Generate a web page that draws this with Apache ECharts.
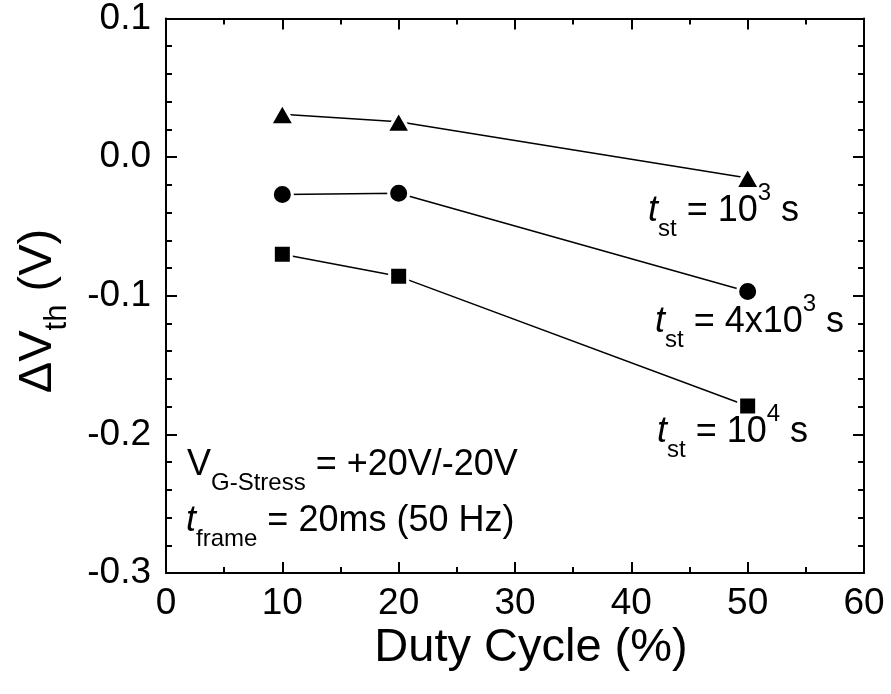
<!DOCTYPE html>
<html>
<head>
<meta charset="utf-8">
<script src="https://cdn.jsdelivr.net/npm/echarts@6/dist/echarts.min.js"></script>
<style>
  html, body { margin: 0; padding: 0; background: #fff; }
  #chart { width: 891px; height: 694px; }
</style>
</head>
<body>
<div id="chart"></div>
<script>
// Duty cycle (%) on the x axis
const dutyCycle = [10, 20, 50];
// Threshold-voltage shift (V) for each stress time
const dVth_t1e3 = [0.031, 0.0255, -0.015];
const dVth_t4e3 = [-0.027, -0.026, -0.097];
const dVth_t1e4 = [-0.070, -0.086, -0.1795];
// Axis tick values
const xTicks = [0, 10, 20, 30, 40, 50, 60];
const yTicks = [-0.3, -0.2, -0.1, 0.0, 0.1];

const FONT = '"Liberation Sans", Arial, Helvetica, sans-serif';
const BLACK = '#000';

function pairs(xs, ys) { return xs.map((x, i) => [x, ys[i]]); }

function axisCommon(showLabels, isX) {
  return {
    type: 'value',
    min: isX ? xTicks[0] : yTicks[0],
    max: isX ? xTicks[xTicks.length - 1] : yTicks[yTicks.length - 1],
    interval: isX ? xTicks[1] - xTicks[0] : 0.1,
    axisLine: { show: true, onZero: false, lineStyle: { color: BLACK, width: 2 } },
    axisTick: { show: true, inside: true, length: 11, lineStyle: { color: BLACK, width: 2 } },
    minorTick: { show: true, splitNumber: isX ? 2 : 5, length: 6, lineStyle: { color: BLACK, width: 2 } },
    splitLine: { show: false },
    minorSplitLine: { show: false },
    axisLabel: {
      show: showLabels,
      color: BLACK,
      fontFamily: FONT,
      fontSize: 37,
      margin: isX ? 12 : 15,
      formatter: isX ? (v => String(v)) : (v => v.toFixed(1))
    }
  };
}

function seriesOf(name, ys, symbol, size) {
  return {
    name: name,
    type: 'line',
    xAxisIndex: 0,
    yAxisIndex: 0,
    data: pairs(dutyCycle, ys),
    symbol: symbol,
    symbolSize: size,
    showAllSymbol: true,
    lineStyle: { color: BLACK, width: 1.5 },
    itemStyle: { color: BLACK, borderColor: '#fff', borderWidth: 3 },
    emphasis: { disabled: true },
    z: 3
  };
}

// Rich-text styles: main text, italic symbol, subscript and superscript
function richStyles(size, subSize, lh, subH, supH) {
  return {
    n:   { fontFamily: FONT, fontSize: size, fill: BLACK, lineHeight: lh, verticalAlign: 'middle' },
    i:   { fontFamily: FONT, fontSize: size, fontStyle: 'italic', fill: BLACK, lineHeight: lh, verticalAlign: 'middle' },
    sub: { fontFamily: FONT, fontSize: subSize, fill: BLACK, lineHeight: subH, verticalAlign: 'bottom' },
    sup: { fontFamily: FONT, fontSize: subSize, fill: BLACK, lineHeight: supH, verticalAlign: 'top' }
  };
}

const annRich = richStyles(36, 24, 60, 24, 36);

function note(x, y, text) {
  return {
    type: 'text', x: x, y: y, z: 10,
    style: { text: text, rich: annRich, fill: BLACK, font: '36px ' + FONT, align: 'left', verticalAlign: 'top' }
  };
}

const chart = echarts.init(document.getElementById('chart'), null, { renderer: 'canvas' });

chart.setOption({
  animation: false,
  backgroundColor: '#fff',
  grid: { left: 166, right: 27, top: 18, bottom: 121, containLabel: false },
  xAxis: [
    Object.assign(axisCommon(true, true), { position: 'bottom' }),
    Object.assign(axisCommon(false, true), { position: 'top' })
  ],
  yAxis: [
    Object.assign(axisCommon(true, false), { position: 'left' }),
    Object.assign(axisCommon(false, false), { position: 'right' })
  ],
  series: [
    seriesOf('t_st = 10^3 s', dVth_t1e3, 'triangle', [24, 21]),
    seriesOf('t_st = 4x10^3 s', dVth_t4e3, 'circle', 20),
    seriesOf('t_st = 10^4 s', dVth_t1e4, 'rect', 18)
  ],
  graphic: [
    // axis titles
    {
      type: 'text', x: 531, y: 648, z: 10,
      style: { text: 'Duty Cycle (%)', fill: BLACK, font: '47px ' + FONT, align: 'center', verticalAlign: 'middle' }
    },
    {
      type: 'text', x: 38, y: 311, rotation: Math.PI / 2, z: 10,
      style: {
        text: '{n|ΔV}{sub|th}{n| (V)}',
        rich: richStyles(47, 31, 70, 35, 40),
        fill: BLACK, font: '47px ' + FONT, align: 'center', verticalAlign: 'middle'
      }
    },
    // series annotations
    note(648, 181, '{i|t}{sub|st}{n| = 10}{sup|3}{n| s}'),
    note(655, 292, '{i|t}{sub|st}{n| = 4x10}{sup|3}{n| s}'),
    note(657, 402, '{i|t}{sub|st}{n| = 10}{sup|4}{n| s}'),
    // stress conditions
    note(187, 435, '{n|V}{sub|G-Stress}{n| = +20V/-20V}'),
    note(186, 491, '{i|t}{sub|frame}{n| = 20ms (50 Hz)}')
  ]
});
</script>
</body>
</html>
